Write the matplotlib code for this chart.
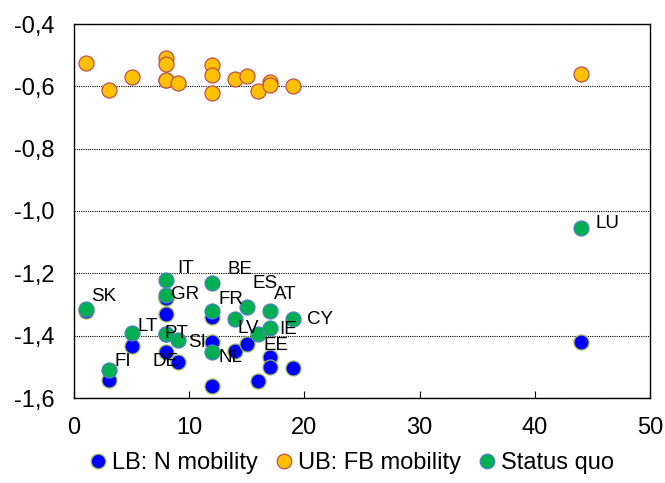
import matplotlib
matplotlib.use('Agg')
import matplotlib.pyplot as plt
from matplotlib.lines import Line2D
from matplotlib.ticker import FuncFormatter

plt.rcParams['font.family'] = ['Liberation Sans', 'DejaVu Sans']

# data
countries = ['SK', 'FI', 'LT', 'IT', 'GR', 'PT', 'DE', 'SI', 'BE', 'FR',
             'NL', 'LV', 'ES', 'EE', 'AT', 'IE', 'CY', 'LU']
x_vals = [1, 3, 5, 8, 8, 8, 8, 9, 12, 12, 12, 14, 15, 16, 17, 17, 19, 44]
lb_n_mobility = [-1.320, -1.541, -1.433, -1.280, -1.280, -1.331, -1.452, -1.486, -1.420,
                 -1.340, -1.560, -1.450, -1.427, -1.544, -1.467, -1.500, -1.503, -1.419]
ub_fb_mobility = [-0.526, -0.612, -0.570, -0.508, -0.529, -0.581, -0.581, -0.590, -0.533,
                  -0.565, -0.621, -0.578, -0.567, -0.615, -0.585, -0.597, -0.598, -0.562]
status_quo = [-1.316, -1.509, -1.392, -1.221, -1.270, -1.396, -1.396, -1.414, -1.230,
              -1.321, -1.452, -1.347, -1.308, -1.396, -1.321, -1.376, -1.346, -1.055]
series_names = ['LB: N mobility', 'UB: FB mobility', 'Status quo']

# label offsets in pixels (right, up) from the green marker
label_offsets = [(6, 13), (6, 8), (6, 7), (11, 11), (5, 1), (-2, 1), (-14, -27), (10, -2),
                 (15, 13), (6, 12), (6, -6), (2, -9), (6, 23), (5, -11), (4, 17), (9, -1),
                 (14, -1), (15, 5)]

fig = plt.figure(figsize=(6.65, 4.83), dpi=100)
ax = fig.add_axes([74 / 665, 1 - 398 / 483, 576 / 665, 374 / 483])

styles = [
    dict(color='#0000FF', mec='#9BBB59'),
    dict(color='#FFC000', mec='#C0504D'),
    dict(color='#00B050', mec='#4F81BD'),
]
for yv, st in zip([lb_n_mobility, ub_fb_mobility, status_quo], styles):
    ax.plot(x_vals, yv, linestyle='none', marker='o', markersize=10.8,
            markerfacecolor=st['color'], markeredgecolor=st['mec'], markeredgewidth=0.9,
            zorder=3)

for name, xv, yv, off in zip(countries, x_vals, status_quo, label_offsets):
    ax.annotate(name, (xv, yv), xytext=off, textcoords='offset pixels',
                ha='left', va='center', fontsize=13.5, zorder=4)

ax.set_xlim(0, 50)
ax.set_ylim(-1.6, -0.4)
ax.set_xticks(range(0, 51, 10))
ax.set_yticks([-1.6, -1.4, -1.2, -1.0, -0.8, -0.6, -0.4])
ax.yaxis.set_major_formatter(FuncFormatter(lambda v, p: f'{v:.1f}'.replace('.', ',')))
ax.tick_params(axis='both', labelsize=17, direction='in', length=5, pad=14)
ax.tick_params(axis='y', length=0)
ax.yaxis.grid(True, color='black', linestyle=(0, (1, 1)), linewidth=0.8)
for s in ax.spines.values():
    s.set_color('black')
    s.set_linewidth(1.0)

handles = [Line2D([], [], linestyle='none', marker='o', markersize=10.5,
                  markerfacecolor=st['color'], markeredgecolor=st['mec'],
                  markeredgewidth=0.9) for st in styles]
fig.legend(handles, series_names, loc='center', bbox_to_anchor=(0.53, 0.041),
           ncol=3, frameon=False, fontsize=17, handlelength=0.6, handletextpad=0.3,
           columnspacing=0.8, borderpad=0)

fig.savefig('out.png', dpi=100)
